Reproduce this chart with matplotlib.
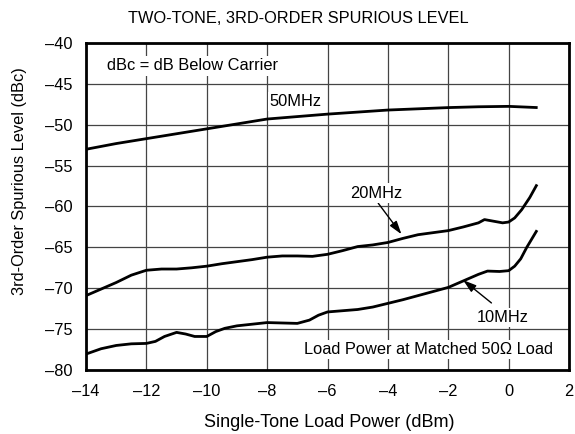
import matplotlib
matplotlib.use('Agg')
import matplotlib.pyplot as plt

plt.rcParams['font.family'] = ['Liberation Sans', 'DejaVu Sans']

# spurious level vs load power, per tone spacing
x_50 = [-14, -13, -12, -11, -10, -9, -8, -7, -6, -5, -4, -3, -2, -1, 0, 0.96]
y_50 = [-53.0, -52.3, -51.7, -51.1, -50.5, -49.9, -49.3, -49.0, -48.7, -48.45, -48.2, -48.05, -47.9, -47.8, -47.75, -47.9]

x_20 = [-14, -13.5, -13, -12.5, -12, -11.5, -11, -10.5, -10, -9.5, -9, -8.5, -8, -7.5, -7, -6.5, -6,
        -5.5, -5, -4.5, -4, -3.5, -3, -2.5, -2, -1.5, -1, -0.8, -0.5, -0.2, 0, 0.2, 0.43, 0.7, 0.94]
y_20 = [-70.9, -70.1, -69.3, -68.4, -67.8, -67.65, -67.65, -67.5, -67.3, -67.0, -66.75, -66.5, -66.2, -66.05, -66.05,
        -66.1, -65.85, -65.4, -64.9, -64.7, -64.4, -63.9, -63.45, -63.2, -62.95, -62.5, -62.0, -61.6, -61.8, -62.0,
        -61.9, -61.4, -60.4, -58.9, -57.3]

x_10 = [-14, -13.5, -13, -12.5, -12, -11.7, -11.4, -11, -10.7, -10.4, -10, -9.7, -9.4, -9, -8.5, -8, -7.5, -7,
        -6.6, -6.3, -6, -5.5, -5, -4.5, -4, -3.5, -3, -2.5, -2, -1.5, -1, -0.7, -0.3, 0, 0.2, 0.4, 0.6, 0.94]
y_10 = [-78.05, -77.4, -77.0, -76.8, -76.75, -76.5, -75.9, -75.4, -75.6, -75.9, -75.9, -75.3, -74.9, -74.6, -74.4,
        -74.2, -74.25, -74.3, -73.9, -73.3, -72.9, -72.75, -72.6, -72.3, -71.85, -71.4, -70.9, -70.4, -69.9, -69.1,
        -68.3, -67.9, -67.95, -67.85, -67.3, -66.4, -65.0, -62.9]

x_ticks = [-14, -12, -10, -8, -6, -4, -2, 0, 2]
x_tick_labels = ['–14', '–12', '–10', '–8', '–6', '–4', '–2', '0', '2']
y_ticks = [-40, -45, -50, -55, -60, -65, -70, -75, -80]
y_tick_labels = ['–40', '–45', '–50', '–55', '–60', '–65', '–70', '–75', '–80']

FS = 11.8

fig = plt.figure(figsize=(5.75, 4.34), dpi=100)
ax = fig.add_axes([0.1496, 0.1475, 0.8400, 0.7534])

ax.plot(x_50, y_50, color='black', lw=2.0, solid_capstyle='butt')
ax.plot(x_20, y_20, color='black', lw=2.0, solid_capstyle='butt')
ax.plot(x_10, y_10, color='black', lw=2.0, solid_capstyle='butt')

ax.set_xlim(-14, 2)
ax.set_ylim(-80, -40)
ax.set_xticks(x_ticks)
ax.set_xticklabels(x_tick_labels)
ax.set_yticks(y_ticks)
ax.set_yticklabels(y_tick_labels)
ax.tick_params(length=0, labelsize=FS, pad=10)
ax.grid(True, color='#444444', lw=0.9)
ax.set_axisbelow(True)
for s in ax.spines.values():
    s.set_linewidth(2.0)

ax.set_xlabel('Single-Tone Load Power (dBm)', fontsize=13)
ax.xaxis.set_label_coords(0.503, -0.162)
ax.xaxis.label.set_va('center')
ax.set_ylabel('3rd-Order Spurious Level (dBc)', fontsize=FS)
ax.yaxis.set_label_coords(-0.137, 0.578)
ax.yaxis.label.set_va('center')
fig.text(298.5 / 575, 1 - 18.5 / 434, 'TWO-TONE, 3RD-ORDER SPURIOUS LEVEL', fontsize=FS, ha='center', va='center')

box = dict(facecolor='white', edgecolor='none', pad=1.5)
ax.text(-13.32, -42.8, 'dBc = dB Below Carrier', fontsize=FS, va='center', ha='left', bbox=box)
ax.text(-7.05, -47.2, '50MHz', fontsize=FS, va='center', ha='center', bbox=box)
ax.text(1.48, -77.45, 'Load Power at Matched 50Ω Load', fontsize=FS, va='center', ha='right', bbox=box)

arrow = dict(arrowstyle='-|>,head_length=0.8,head_width=0.25', color='black', lw=1.0, shrinkA=0, shrinkB=0)
ax.annotate('', xy=(-3.55, -63.4), xytext=(-4.32, -59.6), arrowprops=arrow)
ax.text(-4.4, -58.35, '20MHz', fontsize=FS, va='center', ha='center', bbox=box)
ax.annotate('', xy=(-1.51, -69.0), xytext=(-0.57, -71.8), arrowprops=arrow)
ax.text(-0.19, -73.6, '10MHz', fontsize=FS, va='center', ha='center', bbox=box)

fig.savefig('out.png', dpi=100)
